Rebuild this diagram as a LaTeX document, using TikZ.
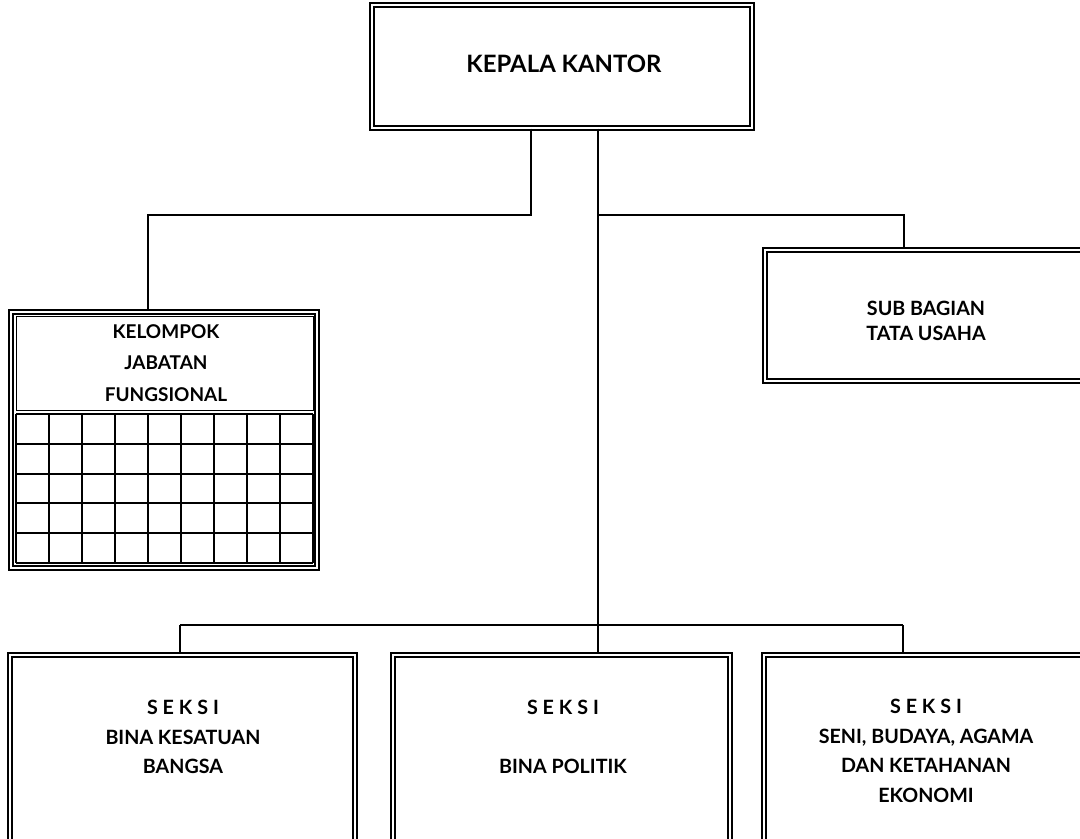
\documentclass[tikz,border=0pt]{standalone}
\usepackage{fontspec}
\setmainfont{Lato}
\usetikzlibrary{
  fit,
}

\newcommand\spaced[1]{{\addfontfeature{LetterSpace=25}#1}}

\tikzset{
  unit/.style={draw, line width=0.9pt, double, double distance=2pt, inner sep=0pt},
  head/.style={draw, line width=0.7pt, inner sep=0pt},
  txt/.style={inner sep=0pt, align=center, font=\bfseries\fontsize{14}{21}\selectfont},
  cell/.style={line width=1.5pt},
  link/.style={line width=1.1pt},
}

\begin{document}
\begin{tikzpicture}[x=0.025cm, y=-0.025cm]
\useasboundingbox (0,0) rectangle (1080,839);
\clip (0,0) rectangle (1080,839);
\fill[white] (0,0) rectangle (1080,839);

% boxes
\node[unit, fit={(372,5) (752,128)}] (kepala) {};
\node[unit, fit={(765,250) (1087,381)}] (tu) {};
\node[unit, fit={(11,312) (317,568)}] (kjf) {};
\node[head, fit={(16,316) (313,410)}] (kjfhead) {};
\foreach \i in {0,...,9}
  \draw[cell] ({16+\i*33},414) -- ({16+\i*33},563);
\foreach \j in {0,...,5}
  \draw[cell] (16,{414+\j*29.8}) -- (313,{414+\j*29.8});
\node[unit, fit={(10,655) (355,842)}] (bks) {};
\node[unit, fit={(393,655) (730,842)}] (bpol) {};
\node[unit, fit={(764,655) (1088,842)}] (sbake) {};

% texts
\node[txt, font=\bfseries\fontsize{17}{21}\selectfont] (kepalaT) at (564,64) {KEPALA KANTOR};
\node[txt, font=\bfseries\fontsize{14}{17.5}\selectfont] (tuT) at (926,321) {SUB BAGIAN\\TATA USAHA};
\node[txt, font=\bfseries\fontsize{13.5}{22.5}\selectfont] (kjfT) at (166,363) {KELOMPOK\\JABATAN\\FUNGSIONAL};
\node[txt] (bksT) at (183,737) {\spaced{SEKSI}\\BINA KESATUAN\\BANGSA};
\node[txt] (bpolT) at (563,737) {\spaced{SEKSI}\\[21pt]BINA POLITIK};
\node[txt] (sbakeT) at (926,751) {\spaced{SEKSI}\\SENI, BUDAYA, AGAMA\\DAN KETAHANAN\\EKONOMI};

% lines
\coordinate (jL) at (148,215);
\coordinate (jM) at (531,215);
\coordinate (spine) at (598,215);
\coordinate (jR) at (904,215);
\coordinate (bL) at (180,625);
\coordinate (bM) at (598,625);
\coordinate (bR) at (903,625);

\draw[link] (kepala.south -| jM) -- (jM) -- (jL) -- (kjf.north -| jL);
\draw[link] (kepala.south -| spine) -- (bM);
\draw[link] (spine) -- (jR) -- (tu.north -| jR);
\draw[link] (bL) -- (bR);
\foreach \c/\n in {bL/bks, bM/bpol, bR/sbake}
  \draw[link] (\c) -- (\n.north -| \c);
\end{tikzpicture}
\end{document}
